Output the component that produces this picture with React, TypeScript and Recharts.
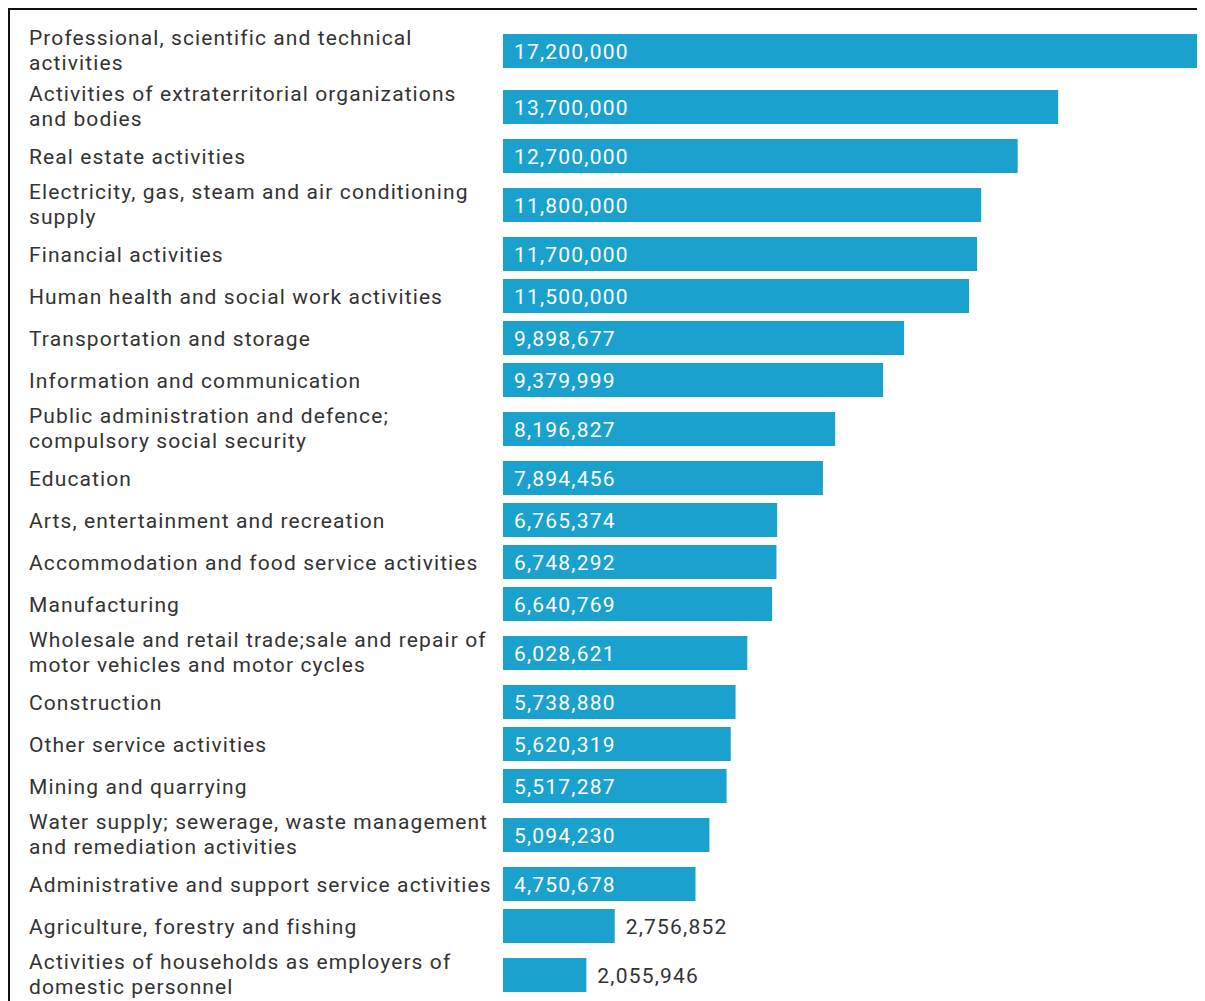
import React from "react";
import { BarChart, Bar, XAxis, YAxis, LabelList } from "recharts";

const categories: string[] = [
  "Professional, scientific and technical\nactivities",
  "Activities of extraterritorial organizations\nand bodies",
  "Real estate activities",
  "Electricity, gas, steam and air conditioning\nsupply",
  "Financial activities",
  "Human health and social work activities",
  "Transportation and storage",
  "Information and communication",
  "Public administration and defence;\ncompulsory social security",
  "Education",
  "Arts, entertainment and recreation",
  "Accommodation and food service activities",
  "Manufacturing",
  "Wholesale and retail trade;sale and repair of\nmotor vehicles and motor cycles",
  "Construction",
  "Other service activities",
  "Mining and quarrying",
  "Water supply; sewerage, waste management\nand remediation activities",
  "Administrative and support service activities",
  "Agriculture, forestry and fishing",
  "Activities of households as employers of\ndomestic personnel",
];

const values: number[] = [
  17200000, 13700000, 12700000, 11800000, 11700000, 11500000, 9898677,
  9379999, 8196827, 7894456, 6765374, 6748292, 6640769, 6028621, 5738880,
  5620319, 5517287, 5094230, 4750678, 2756852, 2055946,
];

// Row layout: rows whose label wraps onto two lines get a taller band.
const ROW_ONE_LINE = 42;
const ROW_TWO_LINES = 56;
const lineCount = (label: string) => label.split("\n").length;

const rowHeights = categories.map((c) =>
  lineCount(c) > 1 ? ROW_TWO_LINES : ROW_ONE_LINE
);
const totalHeight = rowHeights.reduce((a, b) => a + b, 0);

let acc = 0;
const data = categories.map((name, i) => {
  const row = acc + rowHeights[i] / 2;
  acc += rowHeights[i];
  return { name, value: values[i], row };
});
const rowTicks = data.map((d) => d.row);
const labelByRow = new Map<number, string>(data.map((d) => [d.row, d.name]));

const FONT = "Roboto, 'Noto Sans', sans-serif";
const BAR_COLOR = "#1ba1cd";
const TEXT_COLOR = "#333333";

const fmt = (v: number) => v.toLocaleString("en-US");

const CategoryTick = (props: any) => {
  const { y, payload } = props;
  const label = labelByRow.get(Number(payload.value)) ?? "";
  const lines: string[] = label.split("\n");
  const lh = 25;
  const start = lines.length > 1 ? -13.5 : 0;
  return (
    <text
      x={19}
      y={y}
      textAnchor="start"
      fill={TEXT_COLOR}
      fontFamily={FONT}
      fontSize={21}
      letterSpacing={1.1}
    >
      {lines.map((ln, i) => (
        <tspan key={i} x={19} y={y + start + i * lh} dy="0.36em">
          {ln}
        </tspan>
      ))}
    </text>
  );
};

const ValueLabel = (props: any) => {
  const { x, y, width, height, value } = props;
  const inside = width > 140;
  const tx = inside ? x + 11 : x + width + 11;
  return (
    <text
      x={tx}
      y={y + height / 2}
      dy="0.36em"
      textAnchor="start"
      fill={inside ? "#ffffff" : TEXT_COLOR}
      fontFamily={FONT}
      fontSize={21}
      letterSpacing={1.2}
    >
      {fmt(Number(value))}
    </text>
  );
};

export default function App() {
  return (
    <div
      style={{
        borderTop: "2px solid #111",
        borderLeft: "2px solid #111",
        width: 1195,
        height: 993,
        background: "#fff",
      }}
    >
      <style>{`html, body { overflow: hidden; }`}</style>
      <BarChart
        width={1190}
        height={993}
        data={data}
        layout="vertical"
        margin={{ top: 13, right: 0, bottom: 0, left: 0 }}
      >
        <XAxis type="number" hide domain={[0, 17200000]} />
        <YAxis
          type="number"
          dataKey="row"
          domain={[0, totalHeight]}
          ticks={rowTicks}
          interval={0}
          width={493}
          axisLine={false}
          tickLine={false}
          tick={<CategoryTick />}
        />
        <Bar dataKey="value" fill={BAR_COLOR} barSize={34} isAnimationActive={false}>
          <LabelList dataKey="value" content={<ValueLabel />} />
        </Bar>
      </BarChart>
    </div>
  );
}
